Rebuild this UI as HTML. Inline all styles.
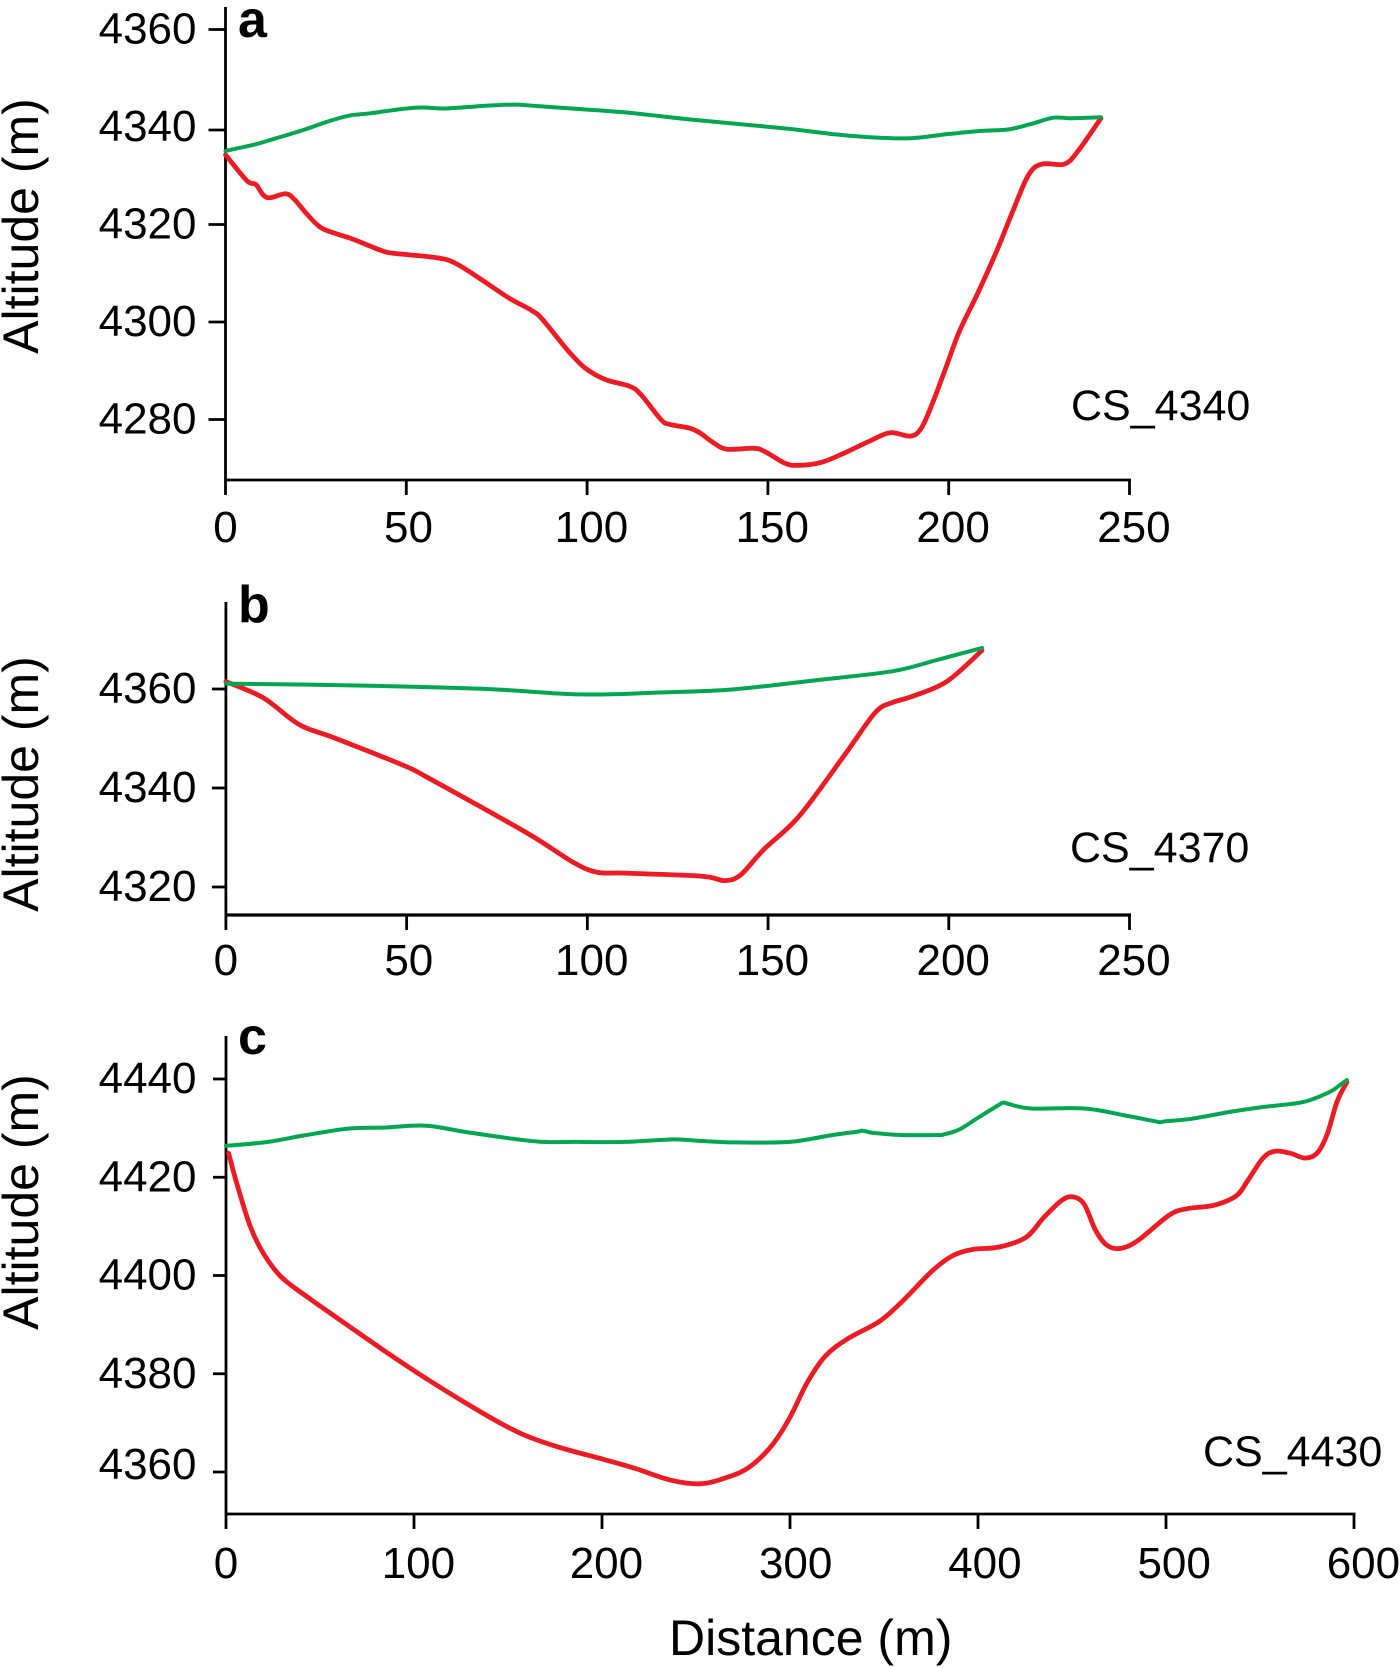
<!DOCTYPE html>
<html lang="en">
<head>
<meta charset="utf-8">
<title>Cross-section altitude profiles</title>
<style>
html,body{margin:0;padding:0;background:#fff;}
svg{display:block;font-family:"Liberation Sans",Arial,sans-serif;fill:#000;}
</style>
</head>
<body>
<svg id="chart" xmlns="http://www.w3.org/2000/svg" width="1400" height="1668" viewBox="0 0 1400 1668">
  <rect width="1400" height="1668" fill="#fff"/>
  <text x="669" y="1655" font-size="50">Distance (m)</text>
</svg>
<script>
// Panel a: CS_4340
const panelAXTicks = [0, 50, 100, 150, 200, 250];
const panelAYTicks = [4360, 4340, 4320, 4300, 4280];
const panelAWaterDistance = [0, 8, 13.6, 21.6, 27.8, 34, 40, 48.8, 54.4, 61, 71, 79.7, 85.9, 95.7, 110.6, 127.9, 143.6, 156, 168.4, 178.2, 189.4, 200.5, 209.1, 216.5, 222.7, 228.9, 233.8, 242.1];
const panelAWaterAltitude = [4335.1, 4336.4, 4337.6, 4339.4, 4341, 4342.3, 4342.8, 4343.7, 4344, 4343.8, 4344.3, 4344.6, 4344.3, 4343.8, 4343, 4341.6, 4340.5, 4339.6, 4338.5, 4337.9, 4337.7, 4338.6, 4339.2, 4339.5, 4340.6, 4341.9, 4341.8, 4342];
const panelABedDistance = [0, 5.9, 8.4, 10.5, 12.4, 16.7, 19.1, 22.2, 25.9, 29, 35.2, 42.6, 46.3, 55, 61.1, 64.9, 69.8, 78.4, 84.6, 87.7, 94.5, 99.4, 105, 111.8, 114.9, 120.4, 122.9, 128.5, 131.3, 135, 138.7, 146.1, 149.2, 154.8, 158.5, 164.7, 170.8, 178.2, 183.8, 189.4, 192.4, 195.5, 199.2, 202.9, 207.9, 213.4, 217.8, 222.1, 225.8, 232, 235.7, 242.1];
const panelABedAltitude = [4334.3, 4329, 4328.2, 4326, 4325.5, 4326.3, 4325.1, 4322.4, 4319.6, 4318.5, 4317, 4314.8, 4314.1, 4313.5, 4312.8, 4311.5, 4309.2, 4304.9, 4302.4, 4300.5, 4294.3, 4290.6, 4288.2, 4286.8, 4285.1, 4280, 4279, 4278.2, 4277.2, 4275.2, 4273.9, 4274.1, 4273.4, 4271, 4270.6, 4271.2, 4273, 4275.6, 4277.3, 4276.6, 4278.2, 4283.3, 4290.6, 4298, 4305.7, 4314.8, 4322.9, 4330.2, 4332.4, 4332.4, 4335, 4341.8];

// Panel b: CS_4370
const panelBXTicks = [0, 50, 100, 150, 200, 250];
const panelBYTicks = [4360, 4340, 4320];
const panelBWaterDistance = [0, 36.3, 72.1, 98.1, 120.3, 140, 164.8, 184.5, 196.9, 209.2];
const panelBWaterAltitude = [4361.1, 4360.7, 4360, 4358.9, 4359.3, 4359.9, 4361.9, 4363.6, 4365.9, 4368.3];
const panelBBedDistance = [0, 10.4, 20.3, 30.1, 48.7, 56.1, 83.3, 95.6, 102.5, 110.4, 131.4, 138.1, 142.5, 148.7, 158.6, 170.9, 179.6, 184.5, 189.5, 199.4, 209.2];
const panelBBedAltitude = [4361.5, 4358.2, 4352.8, 4350.1, 4344.7, 4342, 4330.9, 4325.2, 4323, 4322.8, 4322.2, 4321.3, 4322.5, 4327.5, 4334.3, 4346.4, 4355.2, 4357.3, 4358.4, 4361.5, 4367.8];

// Panel c: CS_4430
const panelCXTicks = [0, 100, 200, 300, 400, 500, 600];
const panelCYTicks = [4440, 4420, 4400, 4380, 4360];
const panelCWaterDistance = [0, 22.3, 41.3, 65, 84, 106.6, 129.2, 164.8, 186.1, 212.3, 238.4, 252.1, 271.3, 299.8, 321.1, 336, 338.2, 341, 344.9, 359.1, 378, 381.7, 390, 399.5, 411, 413.7, 416.5, 428, 456.5, 477.9, 494, 496.9, 500, 513.5, 534, 551.6, 572.9, 587.2, 592.6, 596.2];
const panelCWaterAltitude = [4426.4, 4427.2, 4428.5, 4429.9, 4430.1, 4430.5, 4429.1, 4427.3, 4427.2, 4427.2, 4427.7, 4427.4, 4427.1, 4427.2, 4428.5, 4429.3, 4429.5, 4429.3, 4429, 4428.6, 4428.6, 4428.7, 4429.7, 4432, 4434.7, 4435.2, 4434.9, 4434, 4434, 4432.6, 4431.4, 4431.2, 4431.4, 4431.9, 4433.3, 4434.3, 4435.3, 4437.4, 4438.8, 4439.8];
const panelCBedDistance = [1.4, 5.7, 12.8, 19.9, 29.4, 43.7, 62.7, 86.4, 107.8, 138.7, 157.6, 176.6, 200.4, 217, 236, 252.2, 266.5, 278.4, 290.3, 299.8, 309.3, 318.8, 330.6, 347.3, 359.1, 375.8, 386.4, 397.1, 411.3, 425.6, 435.2, 444.6, 450.6, 456.5, 462.4, 468.4, 475.5, 485, 501.7, 511.2, 525.4, 537.3, 543.6, 551.6, 558, 566, 574, 580.3, 585.6, 590.9, 596.2];
const panelCBedAltitude = [4424.9, 4418.8, 4410.1, 4404.5, 4399.7, 4395.5, 4390.4, 4384.1, 4378.7, 4371.5, 4367.7, 4365.1, 4362.6, 4360.8, 4358.4, 4357.6, 4358.9, 4361, 4365.4, 4371, 4378.3, 4383.6, 4387.1, 4390.6, 4394.5, 4401, 4404, 4405.3, 4405.8, 4407.8, 4411.9, 4415.3, 4416, 4414.5, 4409.3, 4406.2, 4405.5, 4407.1, 4412.3, 4413.6, 4414.3, 4416.2, 4419.4, 4423.9, 4425.3, 4424.9, 4423.9, 4424.9, 4428.6, 4435.3, 4439.4];

const SVG_NS = 'http://www.w3.org/2000/svg';
const chart = document.getElementById('chart');

function make(parent, tag, attrs, text) {
  const el = document.createElementNS(SVG_NS, tag);
  for (const k in attrs) el.setAttribute(k, attrs[k]);
  if (text !== undefined) el.textContent = text;
  parent.appendChild(el);
  return el;
}

function smoothPath(xs, ys) {
  let d = 'M' + xs[0].toFixed(1) + ' ' + ys[0].toFixed(1);
  for (let i = 0; i < xs.length - 1; i++) {
    const p = Math.max(i - 1, 0), n = Math.min(i + 2, xs.length - 1);
    const c1x = xs[i] + (xs[i + 1] - xs[p]) / 6;
    const c1y = ys[i] + (ys[i + 1] - ys[p]) / 6;
    const c2x = xs[i + 1] - (xs[n] - xs[i]) / 6;
    const c2y = ys[i + 1] - (ys[n] - ys[i]) / 6;
    d += 'C' + c1x.toFixed(1) + ' ' + c1y.toFixed(1) + ' ' + c2x.toFixed(1) + ' ' + c2y.toFixed(1) + ' ' + xs[i + 1].toFixed(1) + ' ' + ys[i + 1].toFixed(1);
  }
  return d;
}

function drawPanel(p) {
  const xAt = v => p.x0 + (v - p.xMin) * (p.x1 - p.x0) / (p.xMax - p.xMin);
  const yAt = v => p.yRefTop + (p.altTop - v) * (p.yRefBottom - p.yRefTop) / (p.altTop - p.altBottom);

  const g = make(chart, 'g', {});
  
  

  const xAxis = make(g, 'line', { x1: p.x0 - 1, x2: p.x1 + 1.5, y1: p.axisY, y2: p.axisY, stroke: '#000', 'stroke-width': p.axisWidth });
  
  
  const yAxis = make(g, 'line', { x1: p.x0, x2: p.x0, y1: p.axisTop, y2: p.axisY, stroke: '#000', 'stroke-width': 2.8 });
  
  

  p.xTicks.forEach(v => {
    const tick = make(g, 'line', { x1: xAt(v), x2: xAt(v), y1: p.axisY, y2: p.axisY + 15, stroke: '#000', 'stroke-width': 2.8 });
    
    
    const s = String(v);
    const stretch = p.id === 'c' ? Math.max(0, v - 200) / 400 * 5 : 0;
    const label = make(g, 'text', { x: xAt(v) + (s.length - 1) * 2.2 + stretch, y: p.xLabelBase, 'font-size': 44, 'text-anchor': 'middle' }, s);
    
    
  });

  p.yTicks.forEach(v => {
    const tickShift = (p.id === 'a' && v === 4340) ? 3 : 0;
    const tick = make(g, 'line', { x1: p.x0 - p.yTickLen, x2: p.x0, y1: yAt(v) + tickShift, y2: yAt(v) + tickShift, stroke: '#000', 'stroke-width': 2.8 });
    
    
    const shift = (p.id === 'c' && v === 4360) ? -7 : 0;
    const label = make(g, 'text', { x: 196.5, y: yAt(v) + 14 + shift, 'font-size': 44, 'text-anchor': 'end' }, String(v));
    
    
  });

  const yTitle = make(g, 'text', { x: 0, y: 0, 'font-size': 50, 'text-anchor': 'middle', transform: 'translate(38 ' + p.titleY + ') rotate(-90)' }, 'Altitude (m)');
  
  

  const letter = make(g, 'text', { x: 238, y: p.letterBase, 'font-size': 52, 'font-weight': 'bold' }, p.id);
  
  

  const section = make(g, 'text', { x: p.sectionX, y: p.sectionBase, 'font-size': 43 }, p.section);
  
  

  const bed = make(g, 'path', { d: smoothPath(p.bedD.map(xAt), p.bedA.map(yAt)), fill: 'none', stroke: '#ed1c24', 'stroke-width': 4.8, 'stroke-linejoin': 'round', 'stroke-linecap': 'round' });
  
  

  const water = make(g, 'path', { d: smoothPath(p.waterD.map(xAt), p.waterA.map(yAt)), fill: 'none', stroke: '#00a651', 'stroke-width': 4, 'stroke-linejoin': 'round', 'stroke-linecap': 'round' });
  
  
}

drawPanel({
  id: 'a', section: 'CS_4340', xTicks: panelAXTicks, yTicks: panelAYTicks,
  waterD: panelAWaterDistance, waterA: panelAWaterAltitude, bedD: panelABedDistance, bedA: panelABedAltitude,
  xMin: 0, xMax: 250, x0: 225.5, x1: 1129.5, altTop: 4360, altBottom: 4280, yRefTop: 29.5, yRefBottom: 419.5,
  axisY: 480, axisTop: 7, axisWidth: 2.8, yTickLen: 17, xLabelBase: 542, titleY: 226, letterBase: 37, sectionX: 1071, sectionBase: 420
});
drawPanel({
  id: 'b', section: 'CS_4370', xTicks: panelBXTicks, yTicks: panelBYTicks,
  waterD: panelBWaterDistance, waterA: panelBWaterAltitude, bedD: panelBBedDistance, bedA: panelBBedAltitude,
  xMin: 0, xMax: 250, x0: 225.9, x1: 1129.5, altTop: 4360, altBottom: 4320, yRefTop: 689, yRefBottom: 887,
  axisY: 915, axisTop: 602, axisWidth: 3.2, yTickLen: 14, xLabelBase: 975, titleY: 784, letterBase: 622, sectionX: 1070, sectionBase: 862
});
drawPanel({
  id: 'c', section: 'CS_4430', xTicks: panelCXTicks, yTicks: panelCYTicks,
  waterD: panelCWaterDistance, waterA: panelCWaterAltitude, bedD: panelCBedDistance, bedA: panelCBedAltitude,
  xMin: 0, xMax: 600, x0: 226, x1: 1354, altTop: 4440, altBottom: 4360, yRefTop: 1079, yRefBottom: 1472,
  axisY: 1514, axisTop: 1036, axisWidth: 2.8, yTickLen: 13, xLabelBase: 1578, titleY: 1202, letterBase: 1054, sectionX: 1203, sectionBase: 1466
});
</script>
</body>
</html>
